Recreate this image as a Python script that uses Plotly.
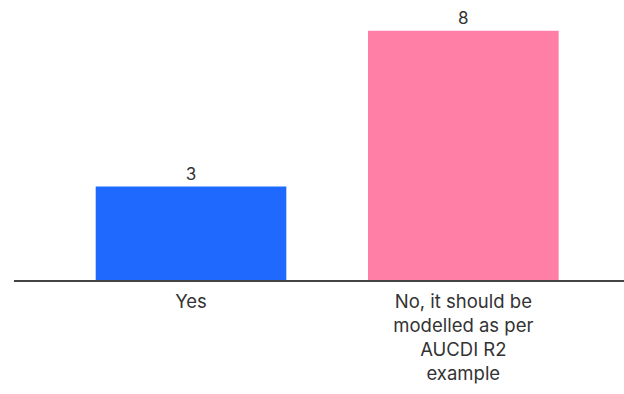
import plotly.graph_objects as go

categories = ["Yes", "No, it should be<br>modelled as per<br>AUCDI R2<br>example"]
counts = [3, 8]
bar_colors = ["#1F69FF", "#FF7FA7"]

fig = go.Figure(
    go.Bar(
        x=categories,
        y=counts,
        marker=dict(color=bar_colors, line=dict(width=0)),
        text=[str(v) for v in counts],
        textposition="outside",
        cliponaxis=False,
        textfont=dict(family="Inter, Lato, sans-serif", size=17, color="#333333"),
    )
)

fig.update_layout(
    width=624,
    height=394,
    margin=dict(l=14, r=0, t=10, b=113.5),
    paper_bgcolor="white",
    plot_bgcolor="white",
    bargap=0.30,
    showlegend=False,
    font=dict(family="Inter, Lato, sans-serif", size=18.5, color="#333333"),
)
fig.update_xaxes(
    range=[-0.65, 1.59],
    showline=True,
    linecolor="#444444",
    linewidth=2,
    showgrid=False,
    ticks="",
    ticklabelstandoff=4,
    tickfont=dict(size=18.5, color="#333333"),
)
fig.update_yaxes(
    range=[0, 8.67],
    visible=False,
    showgrid=False,
    zeroline=False,
)

fig.write_html("out.html")
